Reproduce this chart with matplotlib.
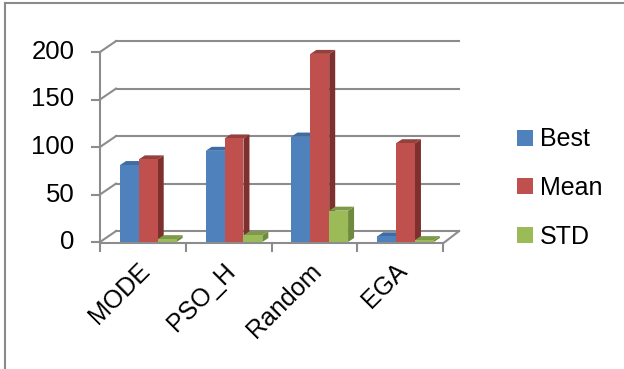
import matplotlib.pyplot as plt
from matplotlib.patches import Polygon, Patch
from matplotlib.lines import Line2D

plt.rcParams['font.family'] = ['Liberation Sans', 'DejaVu Sans']

categories = ['MODE', 'PSO_H', 'Random', 'EGA']
series = ['Best', 'Mean', 'STD']
best = [81, 96, 111, 6]
mean = [87, 109, 198, 104]
std = [3, 7, 33, 2]
yticks = [0, 50, 100, 150, 200]

front = ['#4F81BD', '#C0504D', '#9BBB59']
side = ['#385E8C', '#7E302E', '#6E8A3C']
top = ['#3F6CA3', '#94403D', '#7D9A48']
grid_c = '#8C8C8C'

W, H = 624, 369
fig = plt.figure(figsize=(W / 100, H / 100), dpi=100)
ax = fig.add_axes([100 / W, (H - 242) / H, 343 / W, 190 / H])
ax.set_xlim(-0.5, 3.5)
ax.set_ylim(0, 200)
ax.axis('off')

# wall depth (back wall offset) and bar depth, in data units
wx, wy = 0.187, 11.5
bx, by = 0.07, 4.2

# back wall gridlines, left wall diagonals and y ticks
for v in yticks:
    ax.plot([-0.5 + wx, 3.5 + wx], [v + wy, v + wy], color=grid_c, lw=1.5,
            clip_on=False, zorder=1)
    ax.plot([-0.5, -0.5 + wx], [v, v + wy], color=grid_c, lw=1.5,
            clip_on=False, zorder=1)
    ax.plot([-0.595, -0.5], [v, v], color=grid_c, lw=1.5, clip_on=False, zorder=1)
    ax.text(-0.8, v, str(v), ha='right', va='center', fontsize=18.5)
ax.plot([-0.5, -0.5], [-9, 200], color=grid_c, lw=1.5, clip_on=False, zorder=1)

# floor edges and category ticks
ax.plot([-0.5, 3.5], [-1.5, -1.5], color=grid_c, lw=1.5, clip_on=False, zorder=1)
ax.plot([3.5, 3.5 + wx], [-1.5, wy], color=grid_c, lw=1.5, clip_on=False, zorder=1)
for i in range(1, len(categories) + 1):
    ax.plot([i - 0.5, i - 0.5], [-1.5, -9], color=grid_c, lw=1.5, clip_on=False, zorder=1)

# 3D columns
bw = 0.22
shift = 0.063
z = 3
for i in range(len(categories)):
    for j, vals in enumerate([best, mean, std]):
        h = vals[i]
        x0 = i + shift + (j - 1.5) * bw
        x1 = x0 + bw
        ax.add_patch(Polygon([(x1, 0), (x1 + bx, by), (x1 + bx, h + by), (x1, h)],
                             closed=True, fc=side[j], ec='none', zorder=z, clip_on=False))
        ax.add_patch(Polygon([(x0, h), (x1, h), (x1 + bx, h + by), (x0 + bx, h + by)],
                             closed=True, fc=top[j], ec='none', zorder=z, clip_on=False))
        ax.bar(x0, h, width=bw, align='edge', color=front[j], zorder=z + 1, clip_on=False)
        z += 2

for i, name in enumerate(categories):
    ax.annotate(name, xy=(i, 0), xytext=(-4, -12), textcoords='offset points',
                ha='right', va='top', rotation=45, rotation_mode='anchor', fontsize=18)

handles = [Patch(facecolor=c, edgecolor='none') for c in front]
fig.legend(handles, series, loc='center left', bbox_to_anchor=(517 / W, 1 - 188 / H),
           frameon=False, fontsize=18, handlelength=0.62, handleheight=0.62,
           handletextpad=0.3, labelspacing=0.98, borderpad=0, borderaxespad=0)

# chart border
fig.add_artist(Line2D([5 / W, 5 / W], [0, 1 - 3 / H], color='#8A8A8A', lw=1.5))
fig.add_artist(Line2D([5 / W, 1], [1 - 3 / H, 1 - 3 / H], color='#8A8A8A', lw=1.5))

fig.savefig('out.png', dpi=100)
